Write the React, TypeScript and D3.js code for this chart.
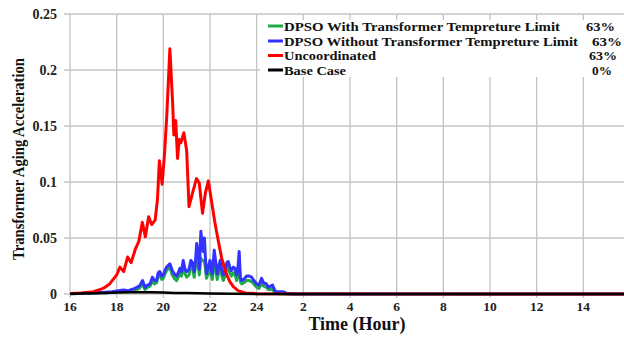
import React from "react";
import * as d3 from "d3";

// Hours after 24 wrap to the next day (25 -> 1, 26 -> 2 ...)
const xTicks = [16, 18, 20, 22, 24, 26, 28, 30, 32, 34, 36, 38];
const yTicks = [0, 0.05, 0.1, 0.15, 0.2, 0.25];

const redHours = [16.0, 16.5, 17.0, 17.3, 17.5, 17.7, 17.85, 18.0, 18.14, 18.3, 18.47, 18.62, 18.8, 18.95, 19.1, 19.23, 19.37, 19.5, 19.65, 19.75, 19.83, 19.95, 20.05, 20.15, 20.28, 20.4, 20.45, 20.53, 20.61, 20.68, 20.75, 20.88, 21.0, 21.1, 21.25, 21.42, 21.54, 21.68, 21.8, 21.93, 22.05, 22.2, 22.35, 22.5, 22.7, 22.85, 23.0, 23.2, 23.5, 24.0, 40.0];
const redValues = [0.0005, 0.001, 0.002, 0.004, 0.006, 0.009, 0.013, 0.017, 0.024, 0.02, 0.033, 0.028, 0.04, 0.047, 0.064, 0.051, 0.069, 0.062, 0.066, 0.085, 0.119, 0.098, 0.125, 0.16, 0.219, 0.17, 0.142, 0.155, 0.121, 0.138, 0.135, 0.144, 0.128, 0.078, 0.09, 0.103, 0.099, 0.072, 0.09, 0.101, 0.085, 0.065, 0.048, 0.032, 0.018, 0.011, 0.0065, 0.003, 0.001, 0.0003, 0];

const dpsoHours = [16.0, 17.0, 17.5, 17.8, 18.07, 18.3, 18.5, 18.78, 18.97, 19.11, 19.21, 19.32, 19.43, 19.53, 19.62, 19.71, 19.78, 19.85, 19.93, 20.0, 20.07, 20.14, 20.28, 20.38, 20.47, 20.57, 20.64, 20.71, 20.78, 20.85, 20.93, 21.0, 21.1, 21.18, 21.25, 21.32, 21.38, 21.43, 21.5, 21.54, 21.61, 21.66, 21.71, 21.76, 21.81, 21.85, 21.93, 22.0, 22.05, 22.1, 22.18, 22.25, 22.31, 22.38, 22.44, 22.5, 22.57, 22.65, 22.72, 22.78, 22.85, 22.92, 23.0, 23.07, 23.14, 23.2, 23.25, 23.3, 23.36, 23.45, 23.57, 23.68, 23.78, 23.88, 24.0, 24.1, 24.21, 24.3, 24.42, 24.5, 24.6, 24.68, 24.76, 24.82, 25.0, 25.14, 25.3, 25.5, 40.0];
const withoutLimitValues = [0.0003, 0.0008, 0.0015, 0.002, 0.003, 0.0035, 0.003, 0.005, 0.007, 0.012, 0.006, 0.008, 0.009, 0.015, 0.012, 0.012, 0.019, 0.02, 0.016, 0.017, 0.021, 0.024, 0.027, 0.021, 0.018, 0.016, 0.019, 0.023, 0.02, 0.03, 0.022, 0.02, 0.022, 0.03, 0.028, 0.02, 0.03, 0.045, 0.035, 0.022, 0.056, 0.045, 0.038, 0.05, 0.03, 0.018, 0.024, 0.03, 0.022, 0.018, 0.039, 0.028, 0.018, 0.025, 0.03, 0.022, 0.017, 0.022, 0.028, 0.029, 0.024, 0.021, 0.024, 0.023, 0.017, 0.024, 0.038, 0.015, 0.012, 0.013, 0.016, 0.016, 0.015, 0.012, 0.009, 0.008, 0.014, 0.01, 0.009, 0.006, 0.007, 0.008, 0.004, 0.002, 0.002, 0.002, 0.0005, 0, 0];
const withLimitValues = [0.0003, 0.0008, 0.0012, 0.0015, 0.002, 0.002, 0.002, 0.003, 0.005, 0.009, 0.004, 0.006, 0.007, 0.012, 0.009, 0.01, 0.016, 0.017, 0.013, 0.014, 0.018, 0.021, 0.024, 0.017, 0.014, 0.012, 0.015, 0.019, 0.016, 0.026, 0.018, 0.015, 0.017, 0.026, 0.024, 0.015, 0.025, 0.028, 0.026, 0.017, 0.032, 0.03, 0.03, 0.029, 0.022, 0.014, 0.019, 0.024, 0.017, 0.013, 0.027, 0.022, 0.013, 0.02, 0.024, 0.017, 0.012, 0.017, 0.022, 0.024, 0.019, 0.016, 0.019, 0.018, 0.012, 0.018, 0.026, 0.011, 0.009, 0.01, 0.012, 0.012, 0.011, 0.009, 0.006, 0.005, 0.01, 0.007, 0.006, 0.004, 0.004, 0.005, 0.001, 0.0005, 0.0003, 0.0002, 0, 0, 0];

const baseHours = [16, 17, 17.5, 18, 18.5, 19, 19.5, 20, 20.5, 21, 22, 23, 24, 40];
const baseValues = [0.0002, 0.0006, 0.001, 0.0013, 0.0015, 0.0016, 0.0015, 0.0013, 0.001, 0.0008, 0.0004, 0.0002, 0.0001, 0];

const legendLabels = [
  "DPSO With Transformer Tempreture Limit",
  "DPSO Without Transformer Tempreture Limit",
  "Uncoordinated",
  "Base Case",
];
const legendPercents = ["63%", "63%", "63%", "0%"];

const COLORS = ["#1faa4a", "#3333ff", "#ff0000", "#000000"];

// legend text geometry
const legendRowY = [26, 41, 55.5, 70];
const legendTextWidth = [276, 294, 92, 62];
const legendPctX = [586, 592, 589, 592];
const legendPctWidth = [29, 30, 28, 20];

const W = 624;
const H = 337;
const x = d3.scaleLinear().domain([16, 40]).range([70, 630]);
const y = d3.scaleLinear().domain([0, 0.25]).range([294, 14]);

const line = d3
  .line<[number, number]>()
  .x((d) => x(d[0]))
  .y((d) => y(d[1]))
  .curve(d3.curveLinear);

const zip = (h: number[], v: number[]) => h.map((t, i) => [t, v[i]] as [number, number]);

const series = [
  { pts: zip(dpsoHours, withLimitValues), color: COLORS[0] },
  { pts: zip(dpsoHours, withoutLimitValues), color: COLORS[1] },
  { pts: zip(redHours, redValues), color: COLORS[2] },
  { pts: zip(baseHours, baseValues), color: COLORS[3] },
];

const font = "'Liberation Serif', 'Times New Roman', serif";
const fmtY = (v: number) => (v === 0 ? "0" : String(+v.toFixed(2)));
const fmtX = (h: number) => String(h > 24 ? h - 24 : h);

export default function App() {
  return (
    <svg
      width={W}
      height={H}
      style={{ position: "absolute", left: 0, top: 0, background: "#fff" }}
      fontFamily={font}
      fontWeight="bold"
    >
      <rect x={0} y={0} width={W} height={H} fill="#fff" />
      <defs>
        <clipPath id="plot">
          <rect x={70} y={10} width={W - 70} height={290} />
        </clipPath>
      </defs>
      {/* grid */}
      {xTicks.map((t) => (
        <line key={"gx" + t} x1={x(t)} x2={x(t)} y1={y(0.25)} y2={y(0) + 4} stroke="#c4c4c4" strokeWidth={1.3} />
      ))}
      {yTicks.map((t) => (
        <line key={"gy" + t} x1={64} x2={W} y1={y(t)} y2={y(t)} stroke="#c4c4c4" strokeWidth={1.3} />
      ))}
      {/* y tick labels */}
      {yTicks.map((t) => (
        <text key={"ly" + t} x={57} y={y(t)} dy="0.35em" textAnchor="end" fontSize={14} fill="#222">
          {fmtY(t)}
        </text>
      ))}
      {/* x tick labels */}
      {xTicks.map((t) => (
        <text key={"lx" + t} x={x(t)} y={311} textAnchor="middle" fontSize={13.5} fill="#222">
          {fmtX(t)}
        </text>
      ))}
      {/* series */}
      <g clipPath="url(#plot)">
        {series.map((s, i) => (
          <path
            key={"s" + i}
            d={line(s.pts) || ""}
            fill="none"
            stroke={s.color}
            strokeWidth={i === 3 ? 2.5 : 3}
            strokeLinejoin="round"
          />
        ))}
      </g>
      {/* legend */}
      <rect x={260} y={20} width={W - 260} height={57} fill="#fff" />
      {legendLabels.map((lab, i) => (
        <g key={"lg" + i}>
          <line x1={268} x2={283} y1={legendRowY[i]} y2={legendRowY[i]} stroke={COLORS[i]} strokeWidth={3} />
          <text
            x={284}
            y={legendRowY[i]}
            dy="0.35em"
            fontSize={13}
            fill="#111"
            textLength={legendTextWidth[i]}
            lengthAdjust="spacingAndGlyphs"
          >
            {lab}
          </text>
          <text
            x={legendPctX[i]}
            y={legendRowY[i]}
            dy="0.35em"
            fontSize={13}
            fill="#111"
            textLength={legendPctWidth[i]}
            lengthAdjust="spacingAndGlyphs"
          >
            {legendPercents[i]}
          </text>
        </g>
      ))}
      {/* axis titles */}
      <text x={357} y={330} textAnchor="middle" fontSize={18} fill="#111">
        Time (Hour)
      </text>
      <text
        transform="translate(24,159) rotate(-90)"
        textAnchor="middle"
        fontSize={16}
        fill="#111"
        textLength={202}
        lengthAdjust="spacingAndGlyphs"
      >
        Transformer Aging Acceleration
      </text>
    </svg>
  );
}
